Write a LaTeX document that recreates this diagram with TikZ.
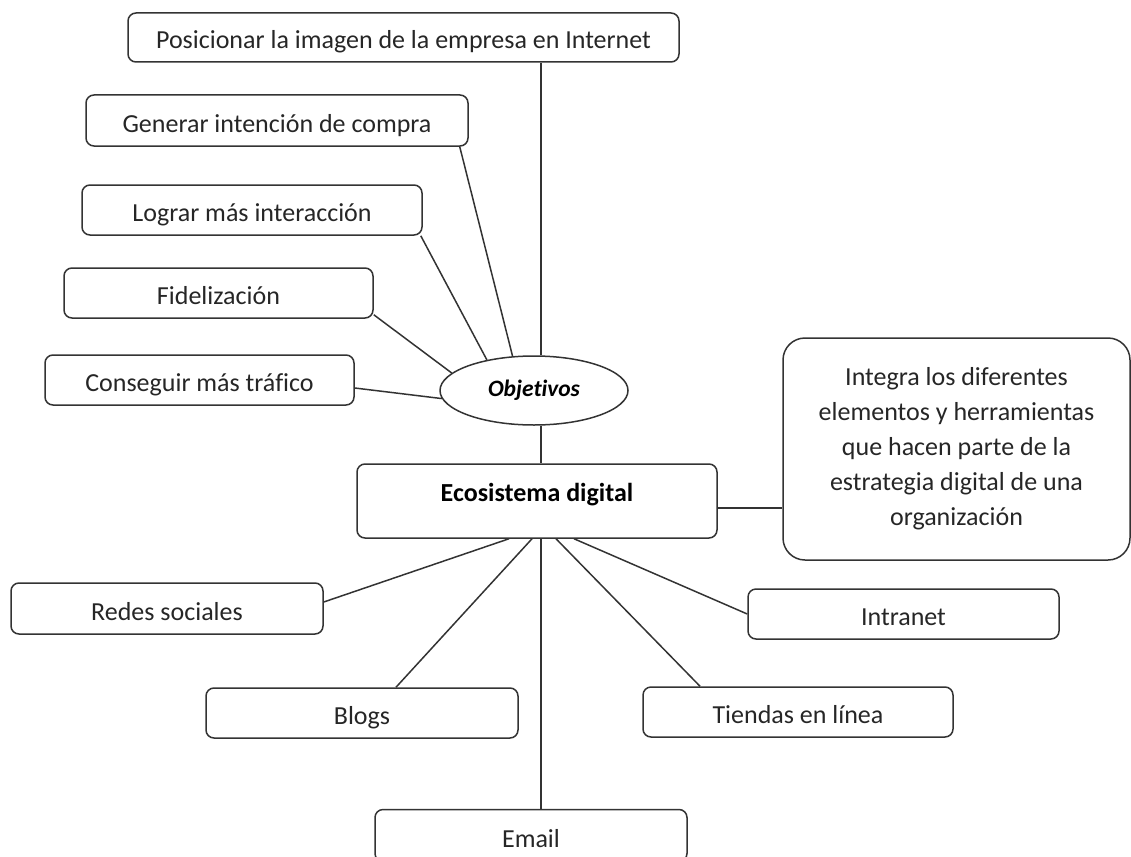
\documentclass[tikz,border=0pt]{standalone}
\usepackage{fontspec}
\setmainfont{Carlito}[Ligatures=NoCommon]
\usetikzlibrary{shapes.geometric}

\begin{document}
\begin{tikzpicture}
[x=1pt, y=-1pt,
box/.style={rectangle, rounded corners=8pt, draw=black!80, line width=1.5pt, inner sep=0pt, text height=23pt, text depth=0pt, font=\fontsize{26}{35}\selectfont, text=black!85},
oval/.style={ellipse, draw=black!80, line width=1.5pt, inner sep=0pt, minimum width=188pt, minimum height=69pt, font=\fontsize{23.5}{28}\selectfont\bfseries\itshape},
link/.style={draw=black!80, line width=1.5pt},
]
\clip (0,0) rectangle (1131,856);
\coordinate (vx) at (541,0);

\node[box, minimum width=551pt, minimum height=49pt]	(pos) at (403.5,37.5) {Posicionar la imagen de la empresa en Internet};
\node[box, minimum width=382pt, minimum height=51pt]	(gen) at (277,120.5) {Generar intención de compra};
\node[box, minimum width=340pt, minimum height=50pt]	(log) at (252,210) {Lograr más interacción};
\node[box, minimum width=309pt, minimum height=50pt]	(fid) at (218.5,293) {Fidelización};
\node[box, minimum width=309pt, minimum height=50pt]	(con) at (199.5,380) {Conseguir más tráfico};
\node[oval]	(obj) at (534,390.5) {Objetivos};
\node[box, minimum width=360pt, minimum height=74pt, text height=8pt, text depth=8pt, font=\fontsize{26}{35}\selectfont\bfseries, text=black]	(eco) at (537,501) {Ecosistema digital};
\node[box, rounded corners=22pt, minimum width=347pt, minimum height=222pt, text height=, text depth=, align=center]	(def) at (956.5,449) {Integra los diferentes\\elementos y herramientas\\que hacen parte de la\\estrategia digital de una\\organización};
\node[box, minimum width=312pt, minimum height=51pt]	(red) at (167,608.5) {Redes sociales};
\node[box, minimum width=311pt, minimum height=50pt]	(intr) at (903.5,614) {Intranet};
\node[box, minimum width=312pt, minimum height=50pt]	(blo) at (362,713) {Blogs};
\node[box, minimum width=310pt, minimum height=50pt]	(tie) at (798,712) {Tiendas en línea};
\node[box, minimum width=312pt, minimum height=52pt]	(ema) at (531,835.5) {Email};

\draw[link] (pos.south -| vx) -- (obj.north -| vx);
\draw[link] ([xshift=-9pt]gen.south east) -- (obj.122);
\draw[link] ([xshift=-2pt]log.south east) -- (obj.147);
\draw[link] ([yshift=4pt]fid.south east) -- (obj.168);
\draw[link] ([yshift=-8pt]con.east) -- (obj.185);
\draw[link] (obj.south -| vx) -- (eco.north -| vx);
\draw[link] ([yshift=-7pt]eco.east) -- ([yshift=-7pt]eco.east -| def.west);

\draw[link] ([xshift=-28pt]eco.south) -- ([yshift=6.5pt]red.east);
\draw[link] ([xshift=-5pt]eco.south) -- ([xshift=34pt]blo.north);
\draw[link] (eco.south -| vx) -- (ema.north -| vx);
\draw[link] ([xshift=19pt]eco.south) -- ([xshift=-98pt]tie.north);
\draw[link] ([xshift=37pt]eco.south) -- (intr.west);
\end{tikzpicture}
\end{document}
